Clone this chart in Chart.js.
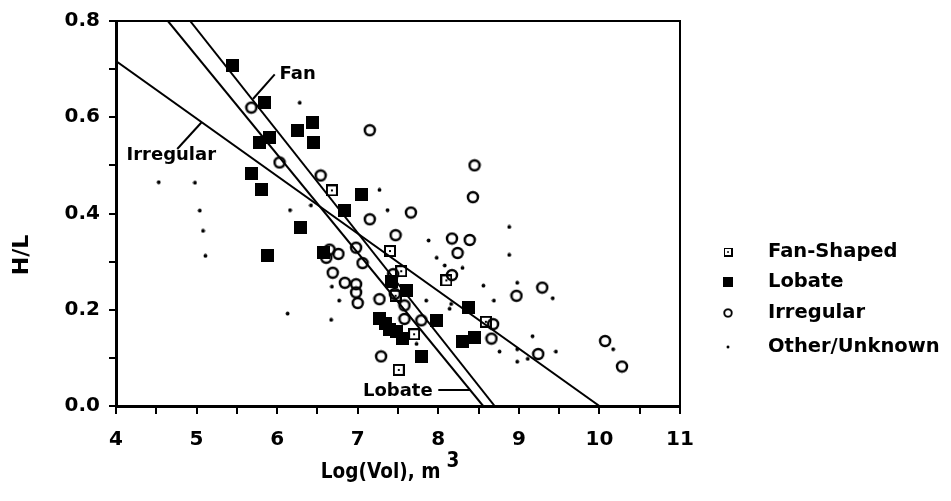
<!DOCTYPE html>
<html>
<head>
<meta charset="utf-8">
<script src="https://cdn.jsdelivr.net/npm/chart.js@4.4.1/dist/chart.umd.min.js"></script>
<style>
  html, body { margin: 0; padding: 0; background: #fff; }
  #wrap { width: 951px; height: 501px; }
</style>
</head>
<body>
<div id="wrap"><canvas id="chart" width="951" height="501"></canvas></div>
<script>
// pontos
const fanX = [6.68, 7.40, 7.54, 7.47, 8.10, 7.70, 7.51, 8.59];
const fanY = [0.448, 0.322, 0.280, 0.229, 0.261, 0.149, 0.075, 0.175];

const lobateX = [5.45, 5.84, 6.44, 6.25, 6.45, 5.78, 5.91, 5.68, 5.81, 7.05, 6.83, 6.29, 5.88,
    6.57, 7.42, 7.61, 7.27, 7.34, 7.40, 7.48, 7.56, 7.79, 7.98, 8.37, 8.30, 8.45];
const lobateY = [0.707, 0.630, 0.589, 0.572, 0.548, 0.548, 0.557, 0.484, 0.449, 0.439, 0.406, 0.371, 0.312,
    0.318, 0.258, 0.239, 0.181, 0.171, 0.158, 0.154, 0.141, 0.103, 0.177, 0.204, 0.134, 0.143];

const irregX = [5.68, 7.15, 6.03, 6.54, 7.15, 7.66, 7.47, 6.98, 7.06, 6.65, 6.76, 6.61, 6.69, 6.84,
    6.98, 6.98, 7.00, 7.27, 7.44, 7.46, 7.58, 7.58, 7.79, 7.29, 8.45, 8.43, 8.17, 8.39, 8.24, 8.17,
    8.97, 9.29, 8.68, 8.66, 9.24, 10.07, 10.28];
const irregY = [0.620, 0.573, 0.506, 0.479, 0.388, 0.402, 0.355, 0.329, 0.297, 0.325, 0.316, 0.308, 0.277, 0.256,
    0.253, 0.236, 0.214, 0.222, 0.274, 0.233, 0.209, 0.181, 0.178, 0.103, 0.500, 0.434, 0.348, 0.345, 0.318, 0.272,
    0.229, 0.246, 0.170, 0.140, 0.108, 0.135, 0.082];

const otherX = [6.28, 4.53, 4.98, 5.04, 5.08, 5.11, 6.16, 6.42, 7.27, 7.37, 6.13, 6.68, 6.77, 6.67, 7.88,
    7.98, 8.08, 8.30, 8.88, 8.88, 8.56, 8.98, 9.42, 8.69, 7.85, 8.16, 8.14, 9.17, 8.76, 8.98, 8.98,
    9.11, 9.46, 10.17, 7.73];
const otherY = [0.630, 0.465, 0.464, 0.406, 0.364, 0.312, 0.407, 0.417, 0.449, 0.407, 0.192, 0.248, 0.219, 0.179, 0.344,
    0.308, 0.292, 0.287, 0.372, 0.314, 0.250, 0.256, 0.224, 0.219, 0.219, 0.212, 0.202, 0.145, 0.113, 0.118, 0.092,
    0.098, 0.113, 0.118, 0.129];

// retas de regressao (extremos)
const fanLineX = [4.92, 8.70], fanLineY = [0.8, 0];
const lobateLineX = [4.644, 8.557], lobateLineY = [0.8, 0];
const irregLineX = [4, 10.0], irregLineY = [0.717, 0];

const xTicks = [4, 5, 6, 7, 8, 9, 10, 11];
const yTicks = [0.0, 0.2, 0.4, 0.6, 0.8];
const legendNames = ['Fan-Shaped', 'Lobate', 'Irregular', 'Other/Unknown'];

const pts = (xs, ys) => xs.map((x, i) => ({ x: x, y: ys[i] }));

function marker(w, h, draw) {
    const c = document.createElement('canvas');
    c.width = w; c.height = h;
    const g = c.getContext('2d');
    g.fillStyle = '#000'; g.strokeStyle = '#000';
    draw(g);
    return c;
}
const fanPt = marker(12, 12, g => { g.fillRect(0, 0, 12, 12); g.clearRect(2, 2, 8, 8); g.fillRect(5, 5, 2, 2); });
const lobatePt = marker(13, 13, g => { g.fillRect(0, 0, 13, 13); });
const irregPt = marker(14, 14, g => { g.lineWidth = 2.5; g.beginPath(); g.arc(7, 7, 5, 0, Math.PI * 2); g.stroke(); });
const otherPt = marker(5, 5, g => { g.beginPath(); g.arc(2.5, 2.5, 1.9, 0, Math.PI * 2); g.fill(); });
const legendPts = [fanPt, lobatePt, irregPt, otherPt];

const FONT = 'DejaVu Sans';
Chart.defaults.font.family = FONT;
Chart.defaults.color = '#000';

const extras = {
    id: 'extras',
    afterDatasetsDraw(chart) {
        const { ctx, chartArea: a, scales: { x, y } } = chart;
        ctx.save();
        // moldura
        ctx.strokeStyle = '#000';
        ctx.lineWidth = 2;
        ctx.strokeRect(a.left, a.top, a.right - a.left, a.bottom - a.top);

        // rotulos das retas
        ctx.font = 'bold 18px ' + FONT;
        ctx.fillStyle = '#000';
        ctx.textBaseline = 'middle';
        ctx.lineWidth = 2;
        const seg = (x1, y1, x2, y2) => {
            ctx.beginPath();
            ctx.moveTo(x.getPixelForValue(x1), y.getPixelForValue(y1));
            ctx.lineTo(x.getPixelForValue(x2), y.getPixelForValue(y2));
            ctx.stroke();
        };
        ctx.textAlign = 'left';
        ctx.fillText('Fan', x.getPixelForValue(6.03), y.getPixelForValue(0.689));
        seg(5.97, 0.689, 5.70, 0.638);
        ctx.fillText('Irregular', x.getPixelForValue(4.13), y.getPixelForValue(0.52));
        seg(4.76, 0.534, 5.06, 0.589);
        ctx.textAlign = 'right';
        ctx.fillText('Lobate', x.getPixelForValue(7.93), y.getPixelForValue(0.031));
        seg(8.0, 0.033, 8.40, 0.033);

        // legenda
        ctx.font = 'bold 19.5px ' + FONT;
        ctx.textAlign = 'left';
        const rows = [252, 282, 313, 347];
        legendNames.forEach((name, i) => {
            const m = legendPts[i];
            const s = i === 3 ? 0.8 : 0.75;
            const w = m.width * s, h = m.height * s;
            ctx.drawImage(m, 728 - w / 2, rows[i] - h / 2, w, h);
            ctx.fillText(name, 768, rows[i]);
        });

        // titulos dos eixos
        ctx.font = 'bold 22px ' + FONT;
        ctx.save();
        ctx.translate(22, 255);
        ctx.rotate(-Math.PI / 2);
        ctx.textAlign = 'center';
        ctx.fillText('H/L', 0, 0);
        ctx.restore();

        const sx = 0.84;
        const main = 'Log(Vol), m';
        const wMain = ctx.measureText(main).width * sx;
        ctx.font = 'bold 22px ' + FONT;
        const wSup = ctx.measureText('3').width * sx;
        const x0 = 390 - (wMain + wSup + 6) / 2;
        ctx.save();
        ctx.translate(x0, 0);
        ctx.scale(sx, 1);
        ctx.textAlign = 'left';
        ctx.fillText(main, 0, 472);
        ctx.fillText('3', (wMain + 6) / sx, 461);
        ctx.restore();
        ctx.restore();
    }
};

const lineStyle = { showLine: true, pointRadius: 0, borderColor: '#000', borderWidth: 2, fill: false };

new Chart(document.getElementById('chart'), {
    type: 'scatter',
    data: {
        datasets: [
            { label: 'Fan', data: pts(fanLineX, fanLineY), ...lineStyle },
            { label: 'Lobate', data: pts(lobateLineX, lobateLineY), ...lineStyle },
            { label: 'Irregular', data: pts(irregLineX, irregLineY), ...lineStyle },
            { label: 'Fan-Shaped', data: pts(fanX, fanY), pointStyle: fanPt },
            { label: 'Lobate', data: pts(lobateX, lobateY), pointStyle: lobatePt },
            { label: 'Irregular', data: pts(irregX, irregY), pointStyle: irregPt },
            { label: 'Other/Unknown', data: pts(otherX, otherY), pointStyle: otherPt }
        ]
    },
    options: {
        responsive: false,
        animation: false,
        layout: { padding: { top: 15, right: 271, left: 0, bottom: 0 } },
        plugins: { legend: { display: false }, tooltip: { enabled: false } },
        scales: {
            x: {
                type: 'linear', min: 4, max: 11,
                afterFit: s => { s.height = 95; },
                border: { display: true, color: '#000', width: 3 },
                grid: { drawOnChartArea: false, drawTicks: true, tickLength: 8, color: '#000', lineWidth: 2 },
                ticks: {
                    stepSize: 0.5, autoSkip: false, maxRotation: 0, padding: 14,
                    font: { size: 20, weight: 'bold' },
                    callback: v => xTicks.includes(v) ? String(v) : ''
                }
            },
            y: {
                type: 'linear', min: 0, max: 0.8,
                afterFit: s => { s.width = 116; },
                border: { display: true, color: '#000', width: 3 },
                grid: { drawOnChartArea: false, drawTicks: true, tickLength: 7, color: '#000', lineWidth: 2 },
                ticks: {
                    stepSize: 0.1, autoSkip: false, padding: 9,
                    font: { size: 20, weight: 'bold' },
                    callback: v => yTicks.some(t => Math.abs(t - v) < 1e-6) ? v.toFixed(1) : ''
                }
            }
        }
    },
    plugins: [extras]
});
</script>
</body>
</html>
